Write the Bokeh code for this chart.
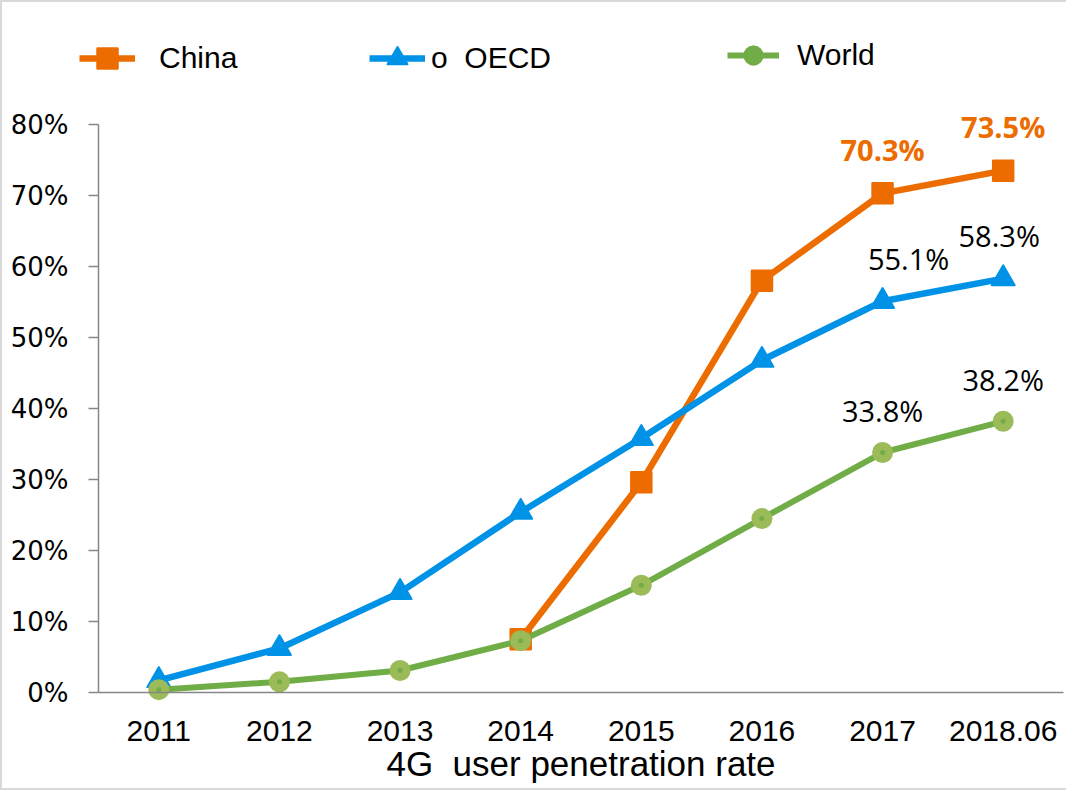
from bokeh.plotting import figure
from bokeh.models import (Range1d, FixedTicker, NumeralTickFormatter,
                          Legend, LegendItem, ColumnDataSource)
from bokeh.core.properties import value
from bokeh.embed import file_html
from bokeh.resources import INLINE

# ---------------- data ----------------
categories = ["2011", "2012", "2013", "2014", "2015", "2016", "2017", "2018.06"]
china_years = ["2014", "2015", "2016", "2017", "2018.06"]
china = [0.075, 0.296, 0.580, 0.703, 0.735]
oecd = [0.017, 0.062, 0.141, 0.254, 0.358, 0.468, 0.551, 0.583]
world = [0.004, 0.015, 0.031, 0.073, 0.151, 0.245, 0.338, 0.382]
y_ticks = [0.0, 0.1, 0.2, 0.3, 0.4, 0.5, 0.6, 0.7, 0.8]
series_names = ["China", "o  OECD", "World"]
x_title = "4G\u00a0 user penetration rate"
label_years = ["2017", "2018.06"]

# category positions on a numeric axis (one unit per category)
pos = {c: i for i, c in enumerate(categories)}
all_x = [pos[c] for c in categories]
china_x = [pos[c] for c in china_years]
label_x = [pos[c] for c in label_years]

# ---------------- style ----------------
ORANGE = "#ED6C00"
BLUE = "#0092E6"
GREEN_LINE = "#70AD47"
GREEN_MARK = "#9BBB59"
AXIS = "#868686"
BORDER = "#D9D9D9"

W, H = 1066, 790
PX_PER_CAT = 965 / 8          # plot-area width per category
AXIS_LEFT = 96                # y axis position inside the canvas
AXIS_BOTTOM = 690             # x axis position inside the canvas
PX_PER_UNIT = 568 / 0.8       # vertical pixels per 100 %
x_start = -0.5 - AXIS_LEFT / PX_PER_CAT
x_end = x_start + (W - 3) / PX_PER_CAT
y_start = -(H - AXIS_BOTTOM) / PX_PER_UNIT
y_end = AXIS_BOTTOM / PX_PER_UNIT

p = figure(width=W, height=H,
           x_range=Range1d(x_start, x_end),
           y_range=Range1d(y_start, y_end),
           output_backend="svg", toolbar_location=None,
           min_border_left=0, min_border_right=3, min_border_top=0,
           min_border_bottom=0)
p.styles = {"border-left": f"2px solid {BORDER}",
            "border-top": f"2px solid {BORDER}",
            "border-bottom": f"2px solid {BORDER}"}
p.xgrid.visible = False
p.ygrid.visible = False
p.outline_line_color = None
p.background_fill_color = "white"
p.border_fill_color = "white"

# y axis (drawn at the left edge of the first category)
ya = p.yaxis[0]
ya.fixed_location = -0.5
ya.bounds = (0, 0.8)
ya.ticker = FixedTicker(ticks=y_ticks, minor_ticks=[])
ya.formatter = NumeralTickFormatter(format="0%")
ya.major_label_text_font = "DejaVu Sans"
ya.major_label_text_font_size = "26px"
ya.major_label_text_color = "#000000"
ya.axis_line_color = AXIS
ya.axis_line_width = 1.5
ya.major_tick_line_color = AXIS
ya.major_tick_line_width = 1.5
ya.major_tick_out = 10
ya.major_tick_in = 0
ya.minor_tick_line_color = None
ya.major_label_standoff = 20

# x axis (drawn at 0 %)
xa = p.xaxis[0]
xa.fixed_location = 0
xa.bounds = (-0.5, len(categories) - 0.5)
xa.ticker = FixedTicker(ticks=all_x, minor_ticks=[])
xa.major_label_overrides = {i: c for i, c in enumerate(categories)}
xa.axis_line_color = AXIS
xa.axis_line_width = 1.5
xa.major_tick_line_color = None
xa.major_tick_out = 0
xa.major_tick_in = 0
xa.minor_tick_line_color = None
xa.major_label_text_font = "Liberation Sans"
xa.major_label_text_font_size = "30px"
xa.major_label_text_color = "#000000"
xa.major_label_standoff = 28
xa.axis_label = x_title
xa.axis_label_text_font = "Liberation Sans"
xa.axis_label_text_font_size = "35px"
xa.axis_label_text_font_style = "normal"
xa.axis_label_text_color = "#000000"
xa.axis_label_standoff = 0

# ---------------- series ----------------
c_line = p.line(china_x, china, line_color=ORANGE, line_width=6.5, line_join="round")
c_mark = p.scatter(china_x, china, marker="square", size=20, fill_color=ORANGE,
                   line_color=ORANGE, line_width=2.5, line_join="round")

o_line = p.line(all_x, oecd, line_color=BLUE, line_width=6.5, line_join="round")
o_mark = p.scatter(all_x, oecd, marker="triangle", size=23, fill_color=BLUE,
                   line_color=BLUE, line_width=2, line_join="round")

w_line = p.line(all_x, world, line_color=GREEN_LINE, line_width=6, line_join="round")
w_mark = p.scatter(all_x, world, marker="circle", size=21, fill_color=GREEN_MARK,
                   line_color=GREEN_MARK, line_width=0)
w_dot = p.scatter(all_x, world, marker="circle", size=5, fill_color=GREEN_LINE,
                  line_color=None)

# ---------------- data labels ----------------
def fmt(vals):
    return [f"{v * 100:.1f}%" for v in vals]

p.text(x=label_x, y=china[-2:], text=fmt(china[-2:]), y_offset=-44,
       text_align="center", text_baseline="middle", text_font=value("Open Sans"),
       text_font_size="29px", text_font_style="bold", text_color=ORANGE)
oecd_src = ColumnDataSource(dict(x=label_x, y=oecd[-2:], t=fmt(oecd[-2:]), dx=[26, -4]))
p.text(x="x", y="y", text="t", x_offset="dx", y_offset=-43, source=oecd_src,
       text_align="center", text_baseline="middle", text_font=value("Open Sans"),
       text_font_size="29px", text_color="#000000")
p.text(x=label_x, y=world[-2:], text=fmt(world[-2:]), y_offset=-42,
       text_align="center", text_baseline="middle", text_font=value("Open Sans"),
       text_font_size="29px", text_color="#000000")

# ---------------- legends ----------------
def make_legend(label, renderers, loc, gw, standoff):
    return Legend(items=[LegendItem(label=label, renderers=renderers)],
                  location=loc, glyph_width=gw, glyph_height=50, label_height=50,
                  label_standoff=standoff, label_text_font="Liberation Sans",
                  label_text_font_size="30px", label_text_color="#000000",
                  padding=0, margin=0, spacing=0, border_line_color=None,
                  background_fill_alpha=0)

# legend locations are measured from the bottom-left of the canvas
p.add_layout(make_legend(series_names[0], [c_line, c_mark], (77, 709), 56, 24))
p.add_layout(make_legend(series_names[1], [o_line, o_mark], (367, 709), 56, 6))
p.add_layout(make_legend(series_names[2], [w_line, w_mark, w_dot], (725, 712), 52, 18))

open("out.html", "w").write(file_html(p, INLINE))
